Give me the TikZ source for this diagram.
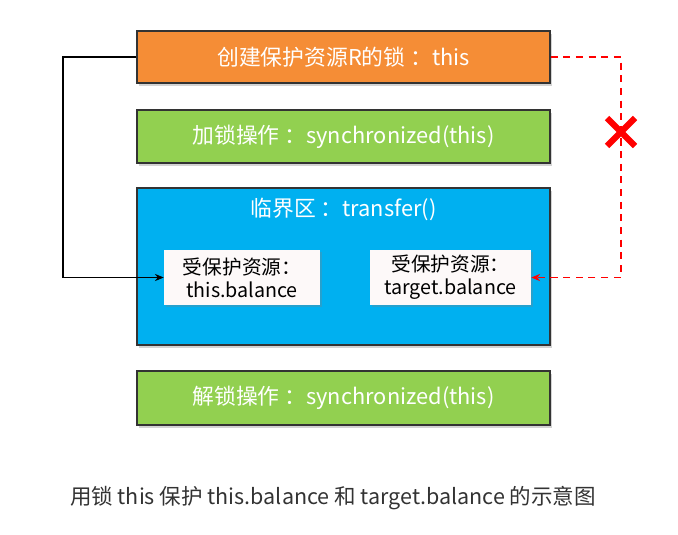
\documentclass[tikz,border=0pt]{standalone}
\usepackage{fontspec}
\setmainfont{Noto Sans CJK SC}
\usepackage{xcolor}
\usepackage{tikz}
\usetikzlibrary{arrows.meta, shadows}

\definecolor{lockorange}{HTML}{F58D36}
\definecolor{lockgreen}{HTML}{92D050}
\definecolor{critblue}{HTML}{00B0F0}
\definecolor{resfill}{HTML}{FDF9F9}
\definecolor{captiongray}{HTML}{333333}

\begin{document}
\begin{tikzpicture}[
    x=0.025cm, y=-0.025cm,
    font=\fontsize{15.5}{17}\selectfont,
    stepbox/.style={draw=black!80, thick, text=white, minimum width=10.325cm,
      drop shadow={shadow xshift=0.5mm, shadow yshift=-0.8mm, opacity=0.35}},
    resbox/.style={draw=none, fill=resfill,
      minimum width=3.9cm, minimum height=1.375cm, align=center, text=black,
      font=\fontsize{14}{16.5}\selectfont,
      drop shadow={shadow xshift=0.4mm, shadow yshift=-0.6mm, opacity=0.3}},
    link/.style={-{Stealth[length=2.2mm, width=1.8mm]}, thick}
  ]
    \useasboundingbox (0,0) rectangle (678,534);

    \node[stepbox, fill=lockorange, minimum height=1.3cm] (lock) at (343.5,57) {创建保护资源R的锁 ：this};
    \node[stepbox, fill=lockgreen, minimum height=1.325cm] (acquire) at (343.5,136.5) {加锁操作 ：synchronized(this)};
    \node[stepbox, fill=critblue, minimum height=3.925cm] (critical) at (343.5,266.5) {};
    \node[text=white] (crittitle) at (343.5,209) {临界区 ：transfer()};
    \node[resbox] (thisbal) at (242,277.5) {受保护资源：\\this.balance};
    \node[resbox, minimum width=4.025cm] (targetbal) at (450.5,277.5) {受保护资源：\\target.balance};
    \node[stepbox, fill=lockgreen, minimum height=1.35cm] (release) at (343.5,398) {解锁操作 ：synchronized(this)};

    \node[text=captiongray, font=\fontsize{15.3}{17}\selectfont] (caption) at (333,498)
      {用锁 this 保护 this.balance 和 target.balance 的示意图};

    % this 锁保护 this.balance
    \draw[link, black] (lock.west) -- (63,57) |- (thisbal.west);
    % 不能保护 target.balance
    \draw[link, red, line width=1.1pt, dash pattern=on 5pt off 4pt] (lock.east) -- (621,57) |- (targetbal.east);
    \draw[red, line width=4.5pt] (607,118) -- (635,146) (607,146) -- (635,118);
  \end{tikzpicture}
\end{document}
